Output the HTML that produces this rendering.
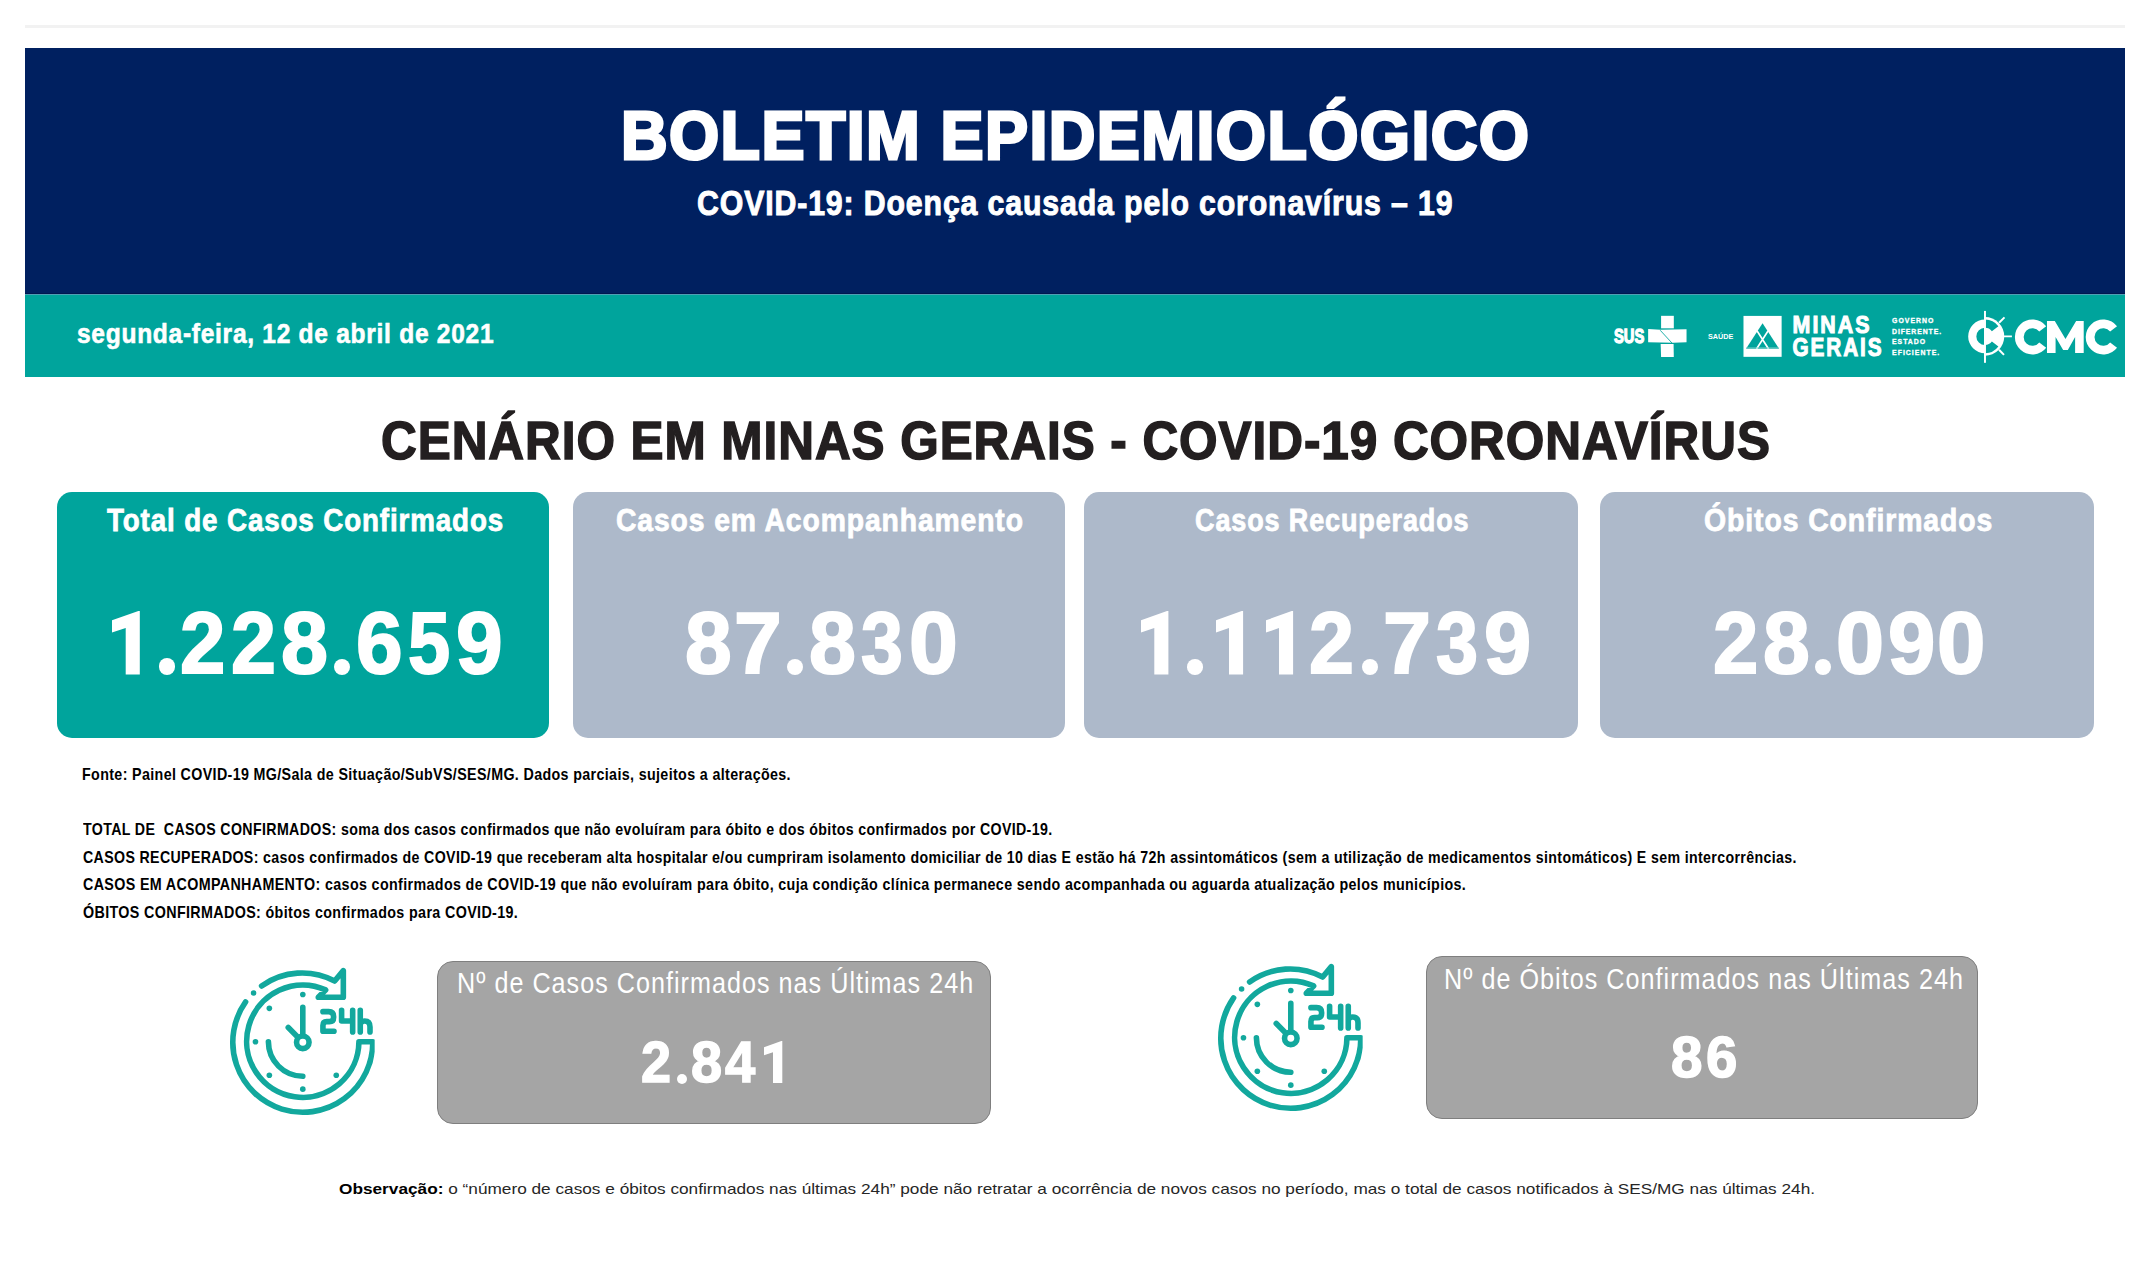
<!DOCTYPE html>
<html lang="pt-BR">
<head>
<meta charset="utf-8">
<title>Boletim Epidemiológico COVID-19 - Minas Gerais</title>
<style>
html,body{margin:0;padding:0;background:#fff;}
body{width:2150px;height:1275px;position:relative;overflow:hidden;font-family:"Liberation Sans",sans-serif;}
.abs{position:absolute;}
.t{position:absolute;white-space:pre;line-height:1;transform-origin:0 0;font-family:"Liberation Sans",sans-serif;}
#topline{left:25px;top:25px;width:2100px;height:3px;background:#f2f2f2;}
#band{left:25px;top:48px;width:2100px;height:246px;background:#002060;}
#band2{left:25px;top:294px;width:2100px;height:83px;background:#00a49c;}
.card{position:absolute;top:492px;height:246px;border-radius:15px;background:#adb9ca;}
.box{position:absolute;background:#a5a5a5;border:1.5px solid #7f7f7f;border-radius:16px;box-sizing:border-box;}
</style>
</head>
<body>
<div id="topline" class="abs"></div>
<div id="band" class="abs"></div>
<div id="band2" class="abs"></div>
<div class="abs" style="left:25px;top:293px;width:2100px;height:1px;background:#00174f"></div>
<div class="abs" style="left:25px;top:294px;width:2100px;height:1px;background:#4f9fb4"></div>
<svg class="abs" style="left:1605px;top:310px" width="90" height="55" viewBox="0 0 2086 1275">
 <text x="210" y="770" font-family="Liberation Sans" font-weight="700" font-size="450" fill="#fff" stroke="#fff" stroke-width="30" textLength="700" lengthAdjust="spacingAndGlyphs">SUS</text>
 <rect x="1300" y="135" width="295" height="290" fill="#fff"/>
 <path d="M1000 440 L1280 455 L1890 445 L1890 745 L1580 760 L1000 750 Z" fill="#fff"/>
 <path d="M1290 790 L1590 790 L1595 1090 L1300 1090 Z" fill="#fff"/>
 <path d="M1280 470 L1575 790" stroke="#00a49c" stroke-width="20" fill="none"/>
</svg>
<svg class="abs" style="left:1700px;top:308px" width="100" height="58" viewBox="0 0 2150 1247">
 <text x="170" y="665" font-family="Liberation Sans" font-weight="700" font-size="167" fill="#fff" textLength="545" lengthAdjust="spacingAndGlyphs">SAÚDE</text>
 <rect x="935" y="170" width="820" height="880" fill="#fff"/>
 <path d="M1345 330 L1700 875 L990 875 Z" fill="#00a49c"/>
 <path d="M1225 490 L1475 880 M1465 490 L1215 880" stroke="#fff" stroke-width="36" fill="none"/>
 <rect x="990" y="845" width="710" height="30" fill="#7fd3cf" opacity="0.7"/>
</svg>
<svg class="abs" style="left:1785px;top:308px" width="165" height="58" viewBox="0 0 2150 756">
 <g font-family="Liberation Sans" font-weight="700" fill="#fff" stroke="#fff">
  <text x="98" y="332" font-size="318" stroke-width="14" letter-spacing="30" textLength="1030" lengthAdjust="spacingAndGlyphs">MINAS</text>
  <text x="98" y="632" font-size="330" stroke-width="14" letter-spacing="30" textLength="1185" lengthAdjust="spacingAndGlyphs">GERAIS</text>
  <g stroke-width="4">
  <text x="1395" y="200" font-size="90" textLength="540" lengthAdjust="spacing">GOVERNO</text>
  <text x="1395" y="335" font-size="90" textLength="640" lengthAdjust="spacing">DIFERENTE.</text>
  <text x="1395" y="470" font-size="90" textLength="430" lengthAdjust="spacing">ESTADO</text>
  <text x="1395" y="610" font-size="90" textLength="615" lengthAdjust="spacing">EFICIENTE.</text>
  </g>
 </g>
</svg>
<svg class="abs" style="left:1962px;top:305px" width="55" height="63" viewBox="0 0 1113 1275">
 <g fill="#fff">
  <path d="M465 295 A340 340 0 0 0 465 975 L465 810 A175 175 0 0 1 465 460 Z"/>
  <path d="M465 245 A390 390 0 0 1 465 1025 Z"/>
 </g>
 <g fill="#00a49c">
  <path d="M465 295 A340 340 0 0 1 736.5 430.4 L604.8 529.7 A175 175 0 0 0 465 460 Z"/>
  <path d="M465 975 A340 340 0 0 0 736.5 839.6 L604.8 740.3 A175 175 0 0 1 465 810 Z"/>
 </g>
 <g stroke="#fff" stroke-width="40" fill="none">
  <path d="M465 120 L465 1170"/>
  <path d="M750 360 L860 250 M750 905 L850 1010 M850 635 L1010 635"/>
 </g>
</svg>
<svg class="abs" style="left:2010px;top:312px" width="112" height="50" viewBox="0 0 2150 960">
 <g fill="none" stroke="#fff" stroke-width="168">
  <path d="M628.6 324.9 A252 252 0 1 0 628.6 635.1"/>
  <path d="M1988.6 324.9 A252 252 0 1 0 1988.6 635.1"/>
 </g>
 <path fill="#fff" d="M710 785 L710 175 L860 175 L1065 520 L1270 175 L1415 175 L1415 785 L1250 785 L1250 480 L1110 730 L1020 730 L875 480 L875 785 Z"/>
</svg>

<div class="card" style="left:57px;width:492px;background:#00a49c"></div>
<div class="card" style="left:573px;width:492px"></div>
<div class="card" style="left:1084px;width:494px"></div>
<div class="card" style="left:1600px;width:494px"></div>
<div class="box" style="left:437px;top:961px;width:554px;height:163px"></div>
<div class="box" style="left:1426px;top:956px;width:552px;height:163px"></div>
<svg class="abs" style="left:220px;top:955px" width="170" height="170" viewBox="0 0 1275 1275">
 <defs><clipPath id="ck"><rect x="0" y="0" width="1160" height="1275"/></clipPath>
 <g id="clock" fill="none" stroke="#12a89d" stroke-width="42" stroke-linecap="round" stroke-linejoin="round">
  <path d="M312 232 A525 525 0 0 1 860 195 L925 117 L925 317 L737 317 L792 262 A421 421 0 1 0 1042 651 L1146 651 A525 525 0 1 1 192 352"/>
  <path d="M363 651 A258 258 0 0 0 621 909"/>
  <path d="M621 392 V 595 M512 544 L575 607"/>
  <circle cx="621" cy="655" r="47"/>
  <path d="M772 425 H 815 Q 852 425 852 462 V 468 Q 852 500 820 500 H 800 Q 772 500 772 528 V 572 H 855"/>
  <path d="M912 415 V 495 H 995 M995 415 V 577"/>
  <path d="M1052 415 V 577 M1052 525 Q 1052 495 1085 495 Q 1125 495 1125 540 V 577"/>
 </g>
 <g id="dots" fill="#12a89d">
  <circle cx="252" cy="285" r="21"/>
  <circle cx="621" cy="296" r="21"/><circle cx="370" cy="400" r="21"/><circle cx="266" cy="651" r="21"/>
  <circle cx="370" cy="902" r="21"/><circle cx="621" cy="1006" r="21"/><circle cx="872" cy="902" r="21"/>
 </g>
 </defs>
 <g clip-path="url(#ck)"><use href="#clock"/><use href="#dots"/></g>
</svg>
<svg class="abs" style="left:1208px;top:951px" width="170" height="170" viewBox="0 0 1275 1275">
 <g clip-path="url(#ck)"><use href="#clock"/><use href="#dots"/></g>
</svg>

<div class="t" style="left:620.64px;top:100.65px;font-size:68.32px;font-weight:700;color:#fff;-webkit-text-stroke:3px #fff;letter-spacing:1.5px;transform:scaleX(0.9445)">BOLETIM EPIDEMIOLÓGICO</div>
<div class="t" style="left:696.57px;top:185.40px;font-size:35.32px;font-weight:700;color:#fff;-webkit-text-stroke:1.0px #fff;letter-spacing:1.0px;transform:scaleX(0.8576)">COVID-19: Doença causada pelo coronavírus – 19</div>
<div class="t" style="left:77.27px;top:319.89px;font-size:27.18px;font-weight:700;color:#fff;-webkit-text-stroke:0.6px #fff;letter-spacing:0.8px;transform:scaleX(0.9029)">segunda-feira, 12 de abril de 2021</div>
<div class="t" style="left:380.84px;top:413.96px;font-size:53.49px;font-weight:700;color:#231f20;-webkit-text-stroke:1.5px #231f20;letter-spacing:1.0px;transform:scaleX(0.9259)">CENÁRIO EM MINAS GERAIS - COVID-19 CORONAVÍRUS</div>
<div class="t" style="left:106.76px;top:504.76px;font-size:31.11px;font-weight:700;color:#fff;-webkit-text-stroke:0.8px #fff;letter-spacing:1.0px;transform:scaleX(0.8913)">Total de Casos Confirmados</div>
<div class="t" style="left:615.75px;top:504.76px;font-size:31.11px;font-weight:700;color:#fff;-webkit-text-stroke:0.8px #fff;letter-spacing:1.0px;transform:scaleX(0.9087)">Casos em Acompanhamento</div>
<div class="t" style="left:1195.28px;top:504.76px;font-size:31.11px;font-weight:700;color:#fff;-webkit-text-stroke:0.8px #fff;letter-spacing:1.0px;transform:scaleX(0.8684)">Casos Recuperados</div>
<div class="t" style="left:1704.05px;top:504.76px;font-size:31.11px;font-weight:700;color:#fff;-webkit-text-stroke:0.8px #fff;letter-spacing:1.0px;transform:scaleX(0.9122)">Óbitos Confirmados</div>
<div class="t" style="left:82.41px;top:766.76px;font-size:15.99px;font-weight:700;color:#000;letter-spacing:0.4px;transform:scaleX(0.8929)">Fonte: Painel COVID-19 MG/Sala de Situação/SubVS/SES/MG. Dados parciais, sujeitos a alterações.</div>
<div class="t" style="left:83.30px;top:822.46px;font-size:15.99px;font-weight:700;color:#000;letter-spacing:0.4px;transform:scaleX(0.8879)">TOTAL DE  CASOS CONFIRMADOS: soma dos casos confirmados que não evoluíram para óbito e dos óbitos confirmados por COVID-19.</div>
<div class="t" style="left:83.30px;top:850.46px;font-size:15.99px;font-weight:700;color:#000;letter-spacing:0.4px;transform:scaleX(0.8869)">CASOS RECUPERADOS: casos confirmados de COVID-19 que receberam alta hospitalar e/ou cumpriram isolamento domiciliar de 10 dias E estão há 72h assintomáticos (sem a utilização de medicamentos sintomáticos) E sem intercorrências.</div>
<div class="t" style="left:83.30px;top:877.46px;font-size:15.99px;font-weight:700;color:#000;letter-spacing:0.4px;transform:scaleX(0.8937)">CASOS EM ACOMPANHAMENTO: casos confirmados de COVID-19 que não evoluíram para óbito, cuja condição clínica permanece sendo acompanhada ou aguarda atualização pelos municípios.</div>
<div class="t" style="left:83.30px;top:905.46px;font-size:15.99px;font-weight:700;color:#000;letter-spacing:0.4px;transform:scaleX(0.8949)">ÓBITOS CONFIRMADOS: óbitos confirmados para COVID-19.</div>
<div class="t" style="left:457.00px;top:968.21px;font-size:29.51px;font-weight:400;color:#fff;letter-spacing:1.2px;transform:scaleX(0.8523)">Nº de Casos Confirmados nas Últimas 24h</div>
<div class="t" style="left:1444.29px;top:964.01px;font-size:29.51px;font-weight:400;color:#fff;letter-spacing:1.2px;transform:scaleX(0.8528)">Nº de Óbitos Confirmados nas Últimas 24h</div>
<svg class="abs" style="left:112.20px;top:610.70px" width="28.80" height="64.50"><polygon points="26.40,0.00 27.80,0.00 27.80,63.50 13.70,63.50 13.70,17.10 0.00,21.50 0.00,9.30" fill="#fff"/></svg>
<div class="abs" style="left:158.60px;top:658.40px;width:16.60px;height:16.60px;border-radius:50%;background:#fff"></div>
<div class="t" style="left:179.58px;top:598.81px;font-size:87.86px;font-weight:700;color:#fff;-webkit-text-stroke:2px #fff;transform:scaleX(0.9279)">2</div>
<div class="t" style="left:230.89px;top:598.81px;font-size:87.86px;font-weight:700;color:#fff;-webkit-text-stroke:2px #fff;transform:scaleX(0.9212)">2</div>
<div class="t" style="left:280.63px;top:598.81px;font-size:87.86px;font-weight:700;color:#fff;-webkit-text-stroke:2px #fff;transform:scaleX(0.9624)">8</div>
<div class="abs" style="left:333.70px;top:658.90px;width:16.10px;height:16.10px;border-radius:50%;background:#fff"></div>
<div class="t" style="left:356.04px;top:598.81px;font-size:87.86px;font-weight:700;color:#fff;-webkit-text-stroke:2px #fff;transform:scaleX(0.9545)">6</div>
<div class="t" style="left:407.99px;top:598.81px;font-size:87.86px;font-weight:700;color:#fff;-webkit-text-stroke:2px #fff;transform:scaleX(0.8622)">5</div>
<div class="t" style="left:456.14px;top:598.81px;font-size:87.86px;font-weight:700;color:#fff;-webkit-text-stroke:2px #fff;transform:scaleX(0.9545)">9</div>
<div class="t" style="left:684.74px;top:598.81px;font-size:87.86px;font-weight:700;color:#fff;-webkit-text-stroke:2px #fff;transform:scaleX(0.9558)">8</div>
<div class="t" style="left:734.44px;top:598.81px;font-size:87.86px;font-weight:700;color:#fff;-webkit-text-stroke:2px #fff;transform:scaleX(0.9780)">7</div>
<div class="abs" style="left:786.70px;top:658.60px;width:16.40px;height:16.40px;border-radius:50%;background:#fff"></div>
<div class="t" style="left:808.53px;top:598.81px;font-size:87.86px;font-weight:700;color:#fff;-webkit-text-stroke:2px #fff;transform:scaleX(0.9602)">8</div>
<div class="t" style="left:861.25px;top:598.81px;font-size:87.86px;font-weight:700;color:#fff;-webkit-text-stroke:2px #fff;transform:scaleX(0.8579)">3</div>
<div class="t" style="left:909.07px;top:598.81px;font-size:87.86px;font-weight:700;color:#fff;-webkit-text-stroke:2px #fff;transform:scaleX(0.9989)">0</div>
<svg class="abs" style="left:1140.70px;top:610.70px" width="28.40" height="64.50"><polygon points="26.00,0.00 27.40,0.00 27.40,63.50 13.30,63.50 13.30,17.10 0.00,21.50 0.00,9.30" fill="#fff"/></svg>
<div class="abs" style="left:1187.10px;top:659.30px;width:15.70px;height:15.70px;border-radius:50%;background:#fff"></div>
<svg class="abs" style="left:1216.00px;top:610.70px" width="28.10" height="64.50"><polygon points="25.70,0.00 27.10,0.00 27.10,63.50 13.00,63.50 13.00,17.10 0.00,21.50 0.00,9.30" fill="#fff"/></svg>
<svg class="abs" style="left:1265.80px;top:610.70px" width="28.10" height="64.50"><polygon points="25.70,0.00 27.10,0.00 27.10,63.50 13.00,63.50 13.00,17.10 0.00,21.50 0.00,9.30" fill="#fff"/></svg>
<div class="t" style="left:1308.69px;top:598.81px;font-size:87.86px;font-weight:700;color:#fff;-webkit-text-stroke:2px #fff;transform:scaleX(0.9212)">2</div>
<div class="abs" style="left:1361.70px;top:658.80px;width:16.20px;height:16.20px;border-radius:50%;background:#fff"></div>
<div class="t" style="left:1383.23px;top:598.81px;font-size:87.86px;font-weight:700;color:#fff;-webkit-text-stroke:2px #fff;transform:scaleX(0.9825)">7</div>
<div class="t" style="left:1436.35px;top:598.81px;font-size:87.86px;font-weight:700;color:#fff;-webkit-text-stroke:2px #fff;transform:scaleX(0.8600)">3</div>
<div class="t" style="left:1483.72px;top:598.81px;font-size:87.86px;font-weight:700;color:#fff;-webkit-text-stroke:2px #fff;transform:scaleX(0.9656)">9</div>
<div class="t" style="left:1712.58px;top:598.81px;font-size:87.86px;font-weight:700;color:#fff;-webkit-text-stroke:2px #fff;transform:scaleX(0.9279)">2</div>
<div class="t" style="left:1762.73px;top:598.81px;font-size:87.86px;font-weight:700;color:#fff;-webkit-text-stroke:2px #fff;transform:scaleX(0.9580)">8</div>
<div class="abs" style="left:1814.90px;top:659.00px;width:16.00px;height:16.00px;border-radius:50%;background:#fff"></div>
<div class="t" style="left:1836.29px;top:598.81px;font-size:87.86px;font-weight:700;color:#fff;-webkit-text-stroke:2px #fff;transform:scaleX(0.9834)">0</div>
<div class="t" style="left:1887.62px;top:598.81px;font-size:87.86px;font-weight:700;color:#fff;-webkit-text-stroke:2px #fff;transform:scaleX(0.9678)">9</div>
<div class="t" style="left:1937.48px;top:598.81px;font-size:87.86px;font-weight:700;color:#fff;-webkit-text-stroke:2px #fff;transform:scaleX(0.9900)">0</div>
<div class="t" style="left:641.18px;top:1033.58px;font-size:57.71px;font-weight:700;color:#fff;-webkit-text-stroke:1.5px #fff;transform:scaleX(0.9369)">2</div>
<div class="abs" style="left:676.70px;top:1073.60px;width:10.40px;height:10.40px;border-radius:50%;background:#fff"></div>
<div class="t" style="left:691.35px;top:1033.58px;font-size:57.71px;font-weight:700;color:#fff;-webkit-text-stroke:1.5px #fff;transform:scaleX(0.9685)">8</div>
<div class="t" style="left:725.16px;top:1033.58px;font-size:57.71px;font-weight:700;color:#fff;-webkit-text-stroke:1.5px #fff;transform:scaleX(0.9416)">4</div>
<svg class="abs" style="left:763.70px;top:1041.30px" width="19.30" height="42.90"><polygon points="17.38,0.00 18.30,0.00 18.30,41.90 9.00,41.90 9.00,11.28 0.00,14.19 0.00,6.14" fill="#fff"/></svg>
<div class="t" style="left:1671.04px;top:1029.05px;font-size:57.29px;font-weight:700;color:#fff;-webkit-text-stroke:1.5px #fff;transform:scaleX(0.9886)">8</div>
<div class="t" style="left:1705.95px;top:1029.05px;font-size:57.29px;font-weight:700;color:#fff;-webkit-text-stroke:1.5px #fff;transform:scaleX(0.9841)">6</div>
<div class="t" style="left:338.80px;top:1181.35px;font-size:15.41px;color:#262626;transform:scaleX(1.1185)"><b style="color:#000">Observação:</b> o “número de casos e óbitos confirmados nas últimas 24h” pode não retratar a ocorrência de novos casos no período, mas o total de casos notificados à SES/MG nas últimas 24h.</div>
</body>
</html>
